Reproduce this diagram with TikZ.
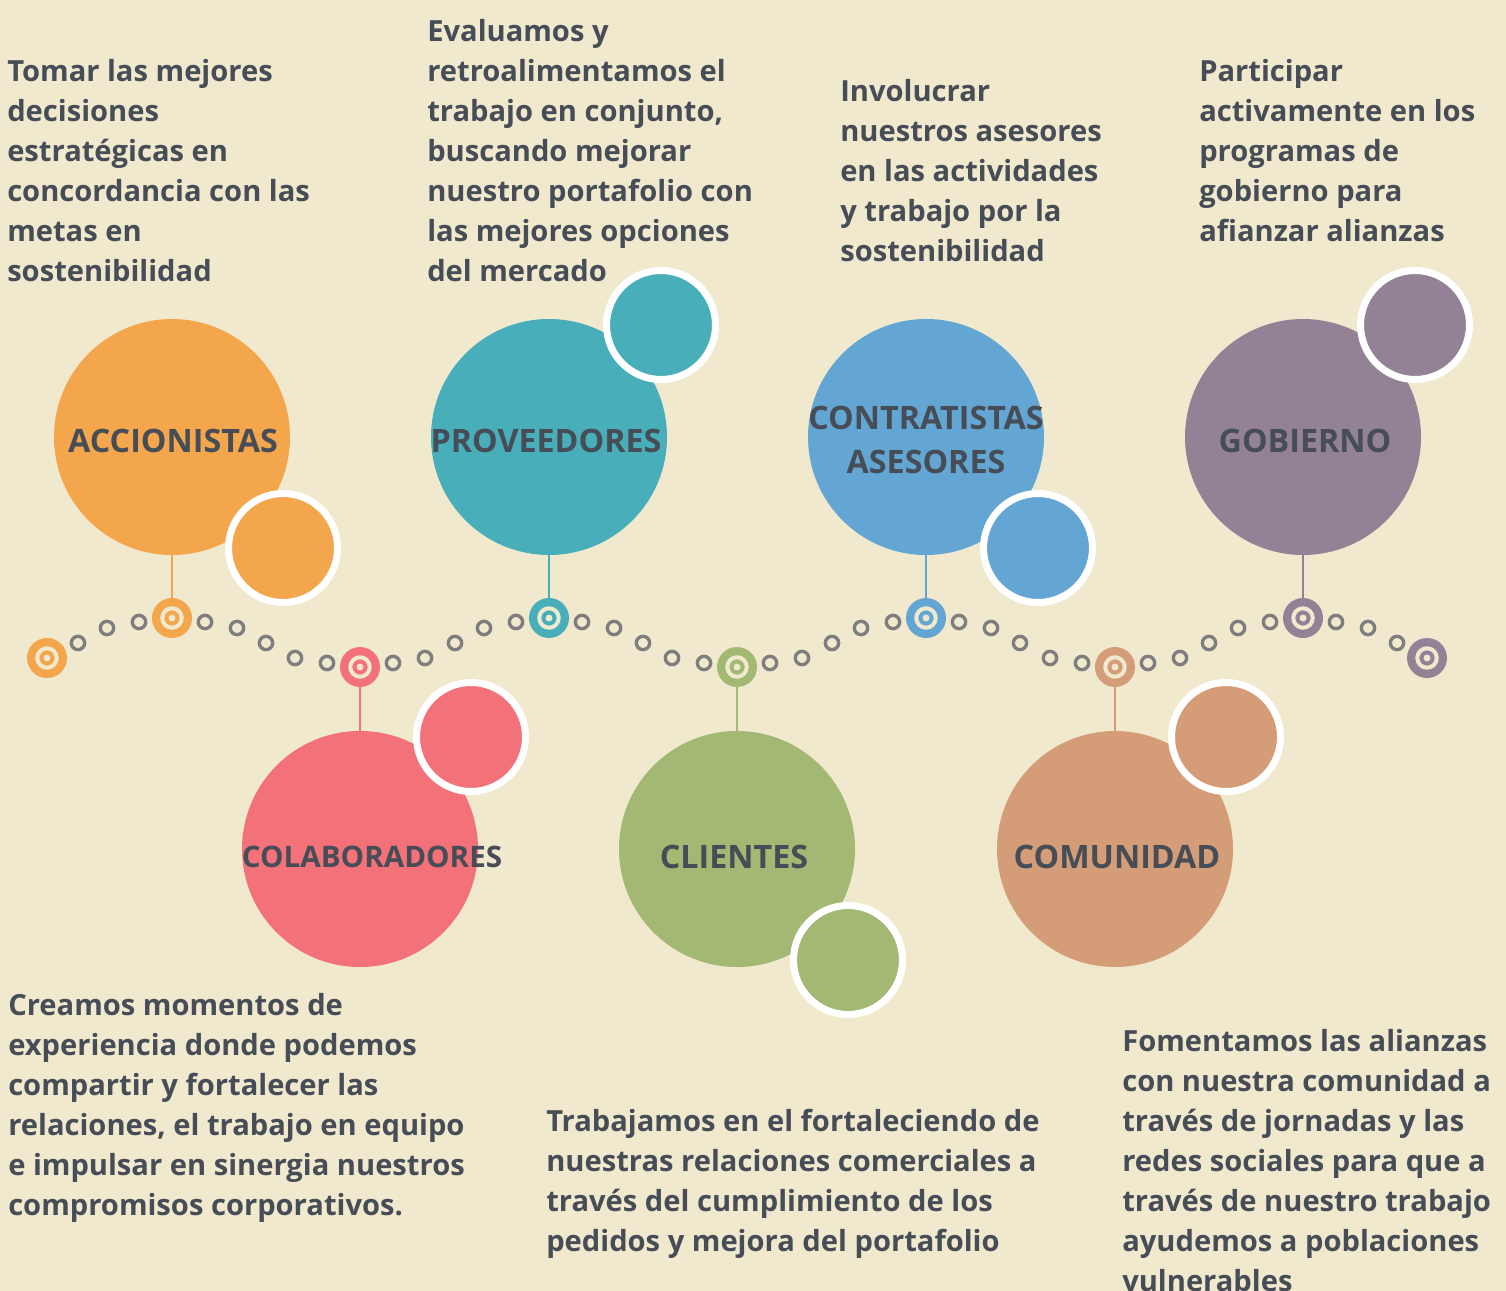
\documentclass[tikz,border=0pt]{standalone}
\usepackage{fontspec}
\setmainfont{Open Sans}
\usetikzlibrary{positioning}

\definecolor{bgcream}{HTML}{F0E9CE}
\definecolor{inkgray}{HTML}{474D56}
\definecolor{dotgray}{HTML}{7E7E7E}
\definecolor{corange}{HTML}{F4A64C}
\definecolor{cteal}{HTML}{47AEBA}
\definecolor{cblue}{HTML}{63A6D4}
\definecolor{cpurple}{HTML}{938296}
\definecolor{cpink}{HTML}{F37179}
\definecolor{cgreen}{HTML}{A2B873}
\definecolor{ctan}{HTML}{D49D78}

\tikzset{
  bigdisk/.style={circle, inner sep=0pt, minimum size=177pt, fill=#1},
  ringdisk/.style={circle, inner sep=0pt, minimum size=81.75pt, draw=white, line width=5.25pt, fill=#1},
  hubdisk/.style={circle, inner sep=0pt, minimum size=30pt, fill=#1},
  stem/.style={line width=1.5pt, draw=#1},
  pearl/.style={draw=dotgray, line width=2.5pt},
  blurb/.style={anchor=north west, align=left, inner sep=0pt, text=inkgray,
    font=\fontsize{21.85}{30}\selectfont\bfseries},
  tag/.style={align=center, inner sep=0pt, text=inkgray,
    font=\fontsize{24.2}{33}\selectfont\bfseries}
}

% hub: name, position, colour
\newcommand{\hub}[3]{%
  \node[hubdisk=#3] (#1) at (#2) {};
  \draw[bgcream, line width=3pt] (#1.center) circle[radius=7.3pt];
  \fill[bgcream] (#1.center) circle[radius=2.6pt];
}

\begin{document}
\begin{tikzpicture}[x=0.75pt, y=-0.75pt]
  \fill[bgcream] (0,0) rectangle (1506,1291);
  \useasboundingbox (0,0) rectangle (1506,1291);

  % pearls along the wave
  \foreach \u in {172,549,926,1303}
    \foreach \dx/\yy in {33/622,65/628,94/643} {
      \draw[pearl] (\u+\dx,\yy) circle[radius=5pt];
      \draw[pearl] (\u-\dx,\yy) circle[radius=5pt];
    }
  \foreach \l in {360,737,1115}
    \foreach \dx/\yy in {33/663,65/658} {
      \draw[pearl] (\l+\dx,\yy) circle[radius=5pt];
      \draw[pearl] (\l-\dx,\yy) circle[radius=5pt];
    }

  % big circles
  \node[bigdisk=corange] (acc) at (172,437) {};
  \node[bigdisk=cteal] (prov) at (549,437) {};
  \node[bigdisk=cblue] (contr) at (926,437) {};
  \node[bigdisk=cpurple] (gob) at (1303,437) {};
  \node[bigdisk=cpink] (colab) at (360,849) {};
  \node[bigdisk=cgreen] (cli) at (737,849) {};
  \node[bigdisk=ctan] (com) at (1115,849) {};

  % hubs on the wave
  \hub{hacc}{172,618}{corange}
  \hub{hprov}{549,618}{cteal}
  \hub{hcontr}{926,618}{cblue}
  \hub{hgob}{1303,618}{cpurple}
  \hub{hcolab}{360,667}{cpink}
  \hub{hcli}{737,667}{cgreen}
  \hub{hcom}{1115,667}{ctan}
  \hub{hleft}{47,658}{corange}
  \hub{hright}{1427,658}{cpurple}

  % stems
  \draw[stem=corange] (acc.south) -- (hacc.north);
  \draw[stem=cteal] (prov.south) -- (hprov.north);
  \draw[stem=cblue] (contr.south) -- (hcontr.north);
  \draw[stem=cpurple] (gob.south) -- (hgob.north);
  \draw[stem=cpink] (hcolab.south) -- (colab.north);
  \draw[stem=cgreen] (hcli.south) -- (cli.north);
  \draw[stem=ctan] (hcom.south) -- (com.north);

  % small ringed circles
  \node[ringdisk=corange] (racc) at (283,548) {};
  \node[ringdisk=cteal] (rprov) at (661,325) {};
  \node[ringdisk=cblue] (rcontr) at (1038,548) {};
  \node[ringdisk=cpurple] (rgob) at (1415,325) {};
  \node[ringdisk=cpink] (rcolab) at (471,737) {};
  \node[ringdisk=cgreen] (rcli) at (848,960) {};
  \node[ringdisk=ctan] (rcom) at (1226,737) {};

  % names
  \node[tag] (tacc) at (173,441) {ACCIONISTAS};
  \node[tag] (tprov) at (546,441) {PROVEEDORES};
  \node[tag] (tcontr) at (926,440) {CONTRATISTAS\\ASESORES};
  \node[tag] (tgob) at (1305,441) {GOBIERNO};
  \node[tag, font=\fontsize{22.2}{30}\selectfont\bfseries] (tcolab) at (372,857) {COLABORADORES};
  \node[tag] (tcli) at (734,857) {CLIENTES};
  \node[tag] (tcom) at (1117,857) {COMUNIDAD};

  % texts
  \node[blurb] (bacc) at (7,59) {Tomar las mejores\\decisiones\\estratégicas en\\concordancia con las\\metas en\\sostenibilidad};
  \node[blurb] (bprov) at (427,19) {Evaluamos y\\retroalimentamos el\\trabajo en conjunto,\\buscando mejorar\\nuestro portafolio con\\las mejores opciones\\del mercado};
  \node[blurb] (bcontr) at (840,79) {Involucrar\\nuestros asesores\\en las actividades\\y trabajo por la\\sostenibilidad};
  \node[blurb] (bgob) at (1199,59) {Participar\\activamente en los\\programas de\\gobierno para\\afianzar alianzas};
  \node[blurb] (bcolab) at (8,993) {Creamos momentos de\\experiencia donde podemos\\compartir y fortalecer las\\relaciones, el trabajo en equipo\\e impulsar en sinergia nuestros\\compromisos corporativos.};
  \node[blurb] (bcli) at (546,1109) {Trabajamos en el fortaleciendo de\\nuestras relaciones comerciales a\\través del cumplimiento de los\\pedidos y mejora del portafolio};
  \node[blurb] (bcom) at (1122,1029) {Fomentamos las alianzas\\con nuestra comunidad a\\través de jornadas y las\\redes sociales para que a\\través de nuestro trabajo\\ayudemos a poblaciones\\vulnerables};
\end{tikzpicture}
\end{document}
